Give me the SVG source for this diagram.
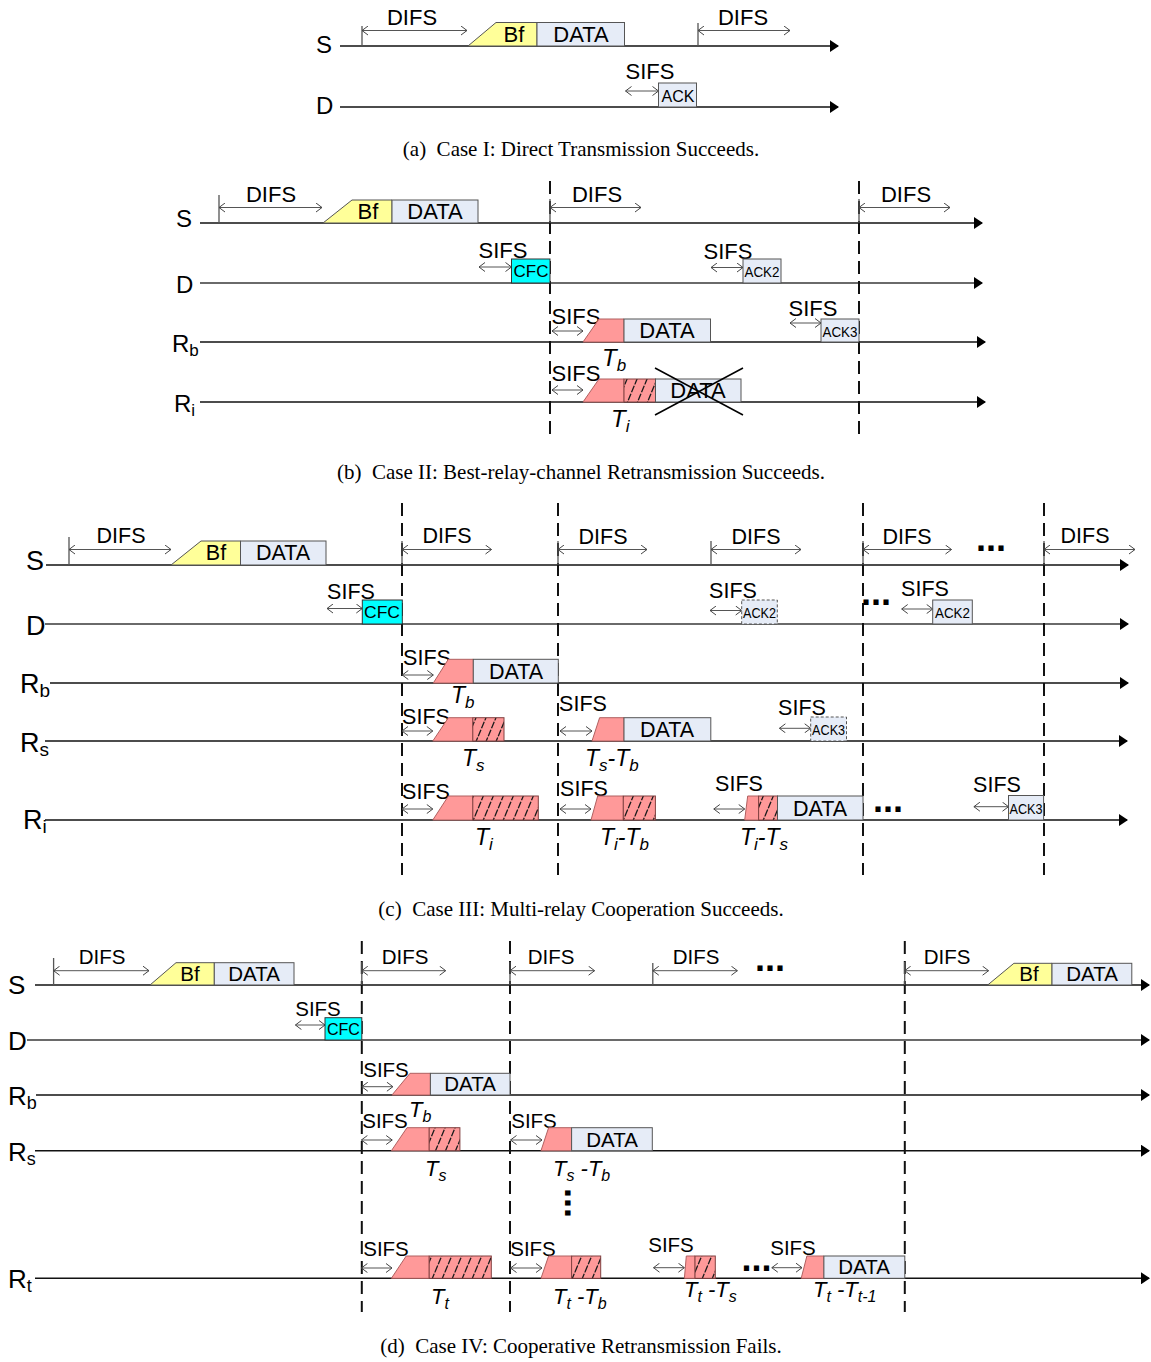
<svg xmlns="http://www.w3.org/2000/svg" width="1151" height="1362" viewBox="0 0 1151 1362">
<style>
.tl{stroke:#111;stroke-width:1.5;fill:none;marker-end:url(#ah)}
.tg{stroke:#6a6a6a;stroke-width:2;fill:none;marker-end:url(#ah)}
.dl{stroke:#111;stroke-width:2;stroke-dasharray:13 7;fill:none}
.dim{stroke:#555;stroke-width:1;fill:none;marker-start:url(#ch);marker-end:url(#ch)}
.tk{stroke:#555;stroke-width:1.3;fill:none}
.tx{font-family:"Liberation Sans",Arial,sans-serif;fill:#000;text-anchor:middle}
.nl{font-family:"Liberation Sans",Arial,sans-serif;fill:#000}
.bf{fill:#ffff99;stroke:#555;stroke-width:1}
.da{fill:#e6ecf7;stroke:#555;stroke-width:1}
.cf{fill:#00ffff;stroke:#333;stroke-width:1}
.rd{fill:#ff9999;stroke:#b06060;stroke-width:1}
.ht{fill:url(#hp);stroke:#804040;stroke-width:1}
.ad{fill:#e6ecf7;stroke:#555;stroke-width:1;stroke-dasharray:3 2}
.T{font-family:"Liberation Sans",Arial,sans-serif;font-style:italic;fill:#000}
.cap{font-family:"Liberation Serif","Times New Roman",serif;font-size:21px;text-anchor:middle;fill:#000;white-space:pre}
.dots{font-family:"Liberation Sans",Arial,sans-serif;font-weight:bold;font-size:36px;text-anchor:middle;fill:#000}
.x{stroke:#000;stroke-width:1.5;fill:none}
</style>
<defs>
<marker id="ah" viewBox="0 0 9 12" refX="8" refY="6" markerWidth="9" markerHeight="12" markerUnits="userSpaceOnUse" orient="auto"><path d="M0,0L9,6L0,12z" fill="#000"/></marker>
<marker id="ch" viewBox="0 0 7 10" refX="6.5" refY="5" markerWidth="7" markerHeight="10" markerUnits="userSpaceOnUse" orient="auto-start-reverse"><path d="M0.5,0.5L6.5,5L0.5,9.5" fill="none" stroke="#444" stroke-width="1"/></marker>
<pattern id="hp" patternUnits="userSpaceOnUse" width="10" height="24"><rect width="10" height="24" fill="#ff9999"/><path d="M-5,24L5,0M5,24L15,0" stroke="#1a1a1a" stroke-width="1.3" stroke-dasharray="7 1.5"/></pattern>
</defs>
<rect width="1151" height="1362" fill="#fff"/>

<!-- ============ Panel (a) ============ -->
<g id="panel-a">
<g id="a-connectors">
<path class="tl" d="M340,46H838"/>
<path class="tl" d="M340,107H838"/>
<path class="tk" d="M362,26V46M698,23V46"/>
<path class="dim" d="M362,30.5H467"/>
<path class="dim" d="M698,30.5H790"/>
<path class="dim" d="M625.5,91H658.5"/>
</g>
<g id="a-labels" class="tx" font-size="22">
<text x="412" y="25">DIFS</text>
<text x="743" y="25">DIFS</text>
<text x="650" y="79">SIFS</text>
</g>
<g id="a-S"><text class="nl" x="316" y="53" font-size="24">S</text></g>
<g id="a-D"><text class="nl" x="316" y="114" font-size="24">D</text></g>
<g id="a-bf"><polygon class="bf" points="468,46 496,22.5 537,22.5 537,46"/><text class="tx" x="514" y="42" font-size="22">Bf</text></g>
<g id="a-data"><rect class="da" x="537" y="22.5" width="87.5" height="23.5"/><text class="tx" x="581" y="42" font-size="22">DATA</text></g>
<g id="a-ack"><rect class="da" x="658.5" y="83" width="38" height="24"/><text class="tx" x="678" y="102" font-size="16" textLength="33" lengthAdjust="spacingAndGlyphs">ACK</text></g>
<text class="cap" x="581" y="156">(a)  Case I: Direct Transmission Succeeds.</text>
</g>

<!-- ============ Panel (b) ============ -->
<g id="panel-b">
<g id="b-connectors">
<path class="tl" d="M200,223H982"/>
<path class="tg" d="M200,283H982"/>
<path class="tl" d="M200,342H985"/>
<path class="tl" d="M200,402H985"/>
<path class="dl" d="M550,181V440"/>
<path class="dl" d="M859,181V440"/>
<path class="tk" d="M219,195V223M550,199V223M859,199V223"/>
<path class="dim" d="M219,207.5H322"/>
<path class="dim" d="M550,207.5H641"/>
<path class="dim" d="M859,207.5H950"/>
<path class="dim" d="M479,267H511.5"/>
<path class="dim" d="M711,267.5H743"/>
<path class="dim" d="M552,331H583"/>
<path class="dim" d="M790,323H821"/>
<path class="dim" d="M552,390H583"/>
</g>
<g id="b-labels" class="tx" font-size="22">
<text x="271" y="202">DIFS</text>
<text x="597" y="202">DIFS</text>
<text x="906" y="202">DIFS</text>
<text x="503" y="258">SIFS</text>
<text x="728" y="259">SIFS</text>
<text x="576" y="324">SIFS</text>
<text x="813" y="316">SIFS</text>
<text x="576" y="381">SIFS</text>
</g>
<g id="b-S"><text class="nl" x="176" y="227" font-size="24">S</text></g>
<g id="b-D"><text class="nl" x="176" y="293" font-size="24">D</text></g>
<g id="b-Rb"><text class="nl" x="172" y="352" font-size="24">R<tspan font-size="17" dy="4">b</tspan></text></g>
<g id="b-Ri"><text class="nl" x="174" y="412" font-size="24">R<tspan font-size="17" dy="4">i</tspan></text></g>
<g id="b-bf"><polygon class="bf" points="323,223 352,200 392,200 392,223"/><text class="tx" x="368" y="219" font-size="22">Bf</text></g>
<g id="b-data"><rect class="da" x="392" y="200" width="86" height="23"/><text class="tx" x="435" y="219" font-size="22">DATA</text></g>
<g id="b-cfc"><rect class="cf" x="511.5" y="259" width="38.5" height="24"/><text class="tx" x="531" y="277" font-size="17" textLength="35" lengthAdjust="spacingAndGlyphs">CFC</text></g>
<g id="b-ack2"><rect class="da" x="743" y="259" width="38" height="24"/><text class="tx" x="762" y="277" font-size="14" textLength="35" lengthAdjust="spacingAndGlyphs">ACK2</text></g>
<g id="b-rb-tb"><polygon class="rd" points="583,342 599,319 624,319 624,342"/></g>
<g id="b-rb-data"><rect class="da" x="624" y="319" width="86.5" height="23"/><text class="tx" x="667" y="338" font-size="22">DATA</text></g>
<g id="b-ack3"><rect class="da" x="821" y="319" width="38" height="23"/><text class="tx" x="840" y="337" font-size="14" textLength="35" lengthAdjust="spacingAndGlyphs">ACK3</text></g>
<g id="b-ri-tb"><polygon class="rd" points="583,402 599,379 624,379 624,402"/></g>
<g id="b-ri-hatch"><rect class="ht" x="624" y="379" width="31.5" height="23"/></g>
<g id="b-ri-data"><rect class="da" x="655.5" y="379" width="85.5" height="23"/><text class="tx" x="698" y="398" font-size="22">DATA</text><path class="x" d="M655,368L743,415M655,415L743,368"/></g>
<g id="b-T"><text class="T" x="602" y="366" font-size="24">T<tspan font-size="17" dy="5">b</tspan></text>
<text class="T" x="611" y="427" font-size="24">T<tspan font-size="17" dy="5">i</tspan></text></g>
<text class="cap" x="581" y="479">(b)  Case II: Best-relay-channel Retransmission Succeeds.</text>
</g>

<!-- ============ Panel (c) ============ -->
<g id="panel-c">
<g id="c-connectors">
<path class="tl" d="M46,565H1128"/>
<path class="tg" d="M45,624H1128"/>
<path class="tl" d="M50,683H1128"/>
<path class="tl" d="M45,741H1127"/>
<path class="tl" d="M45,820H1127"/>
<path class="dl" d="M402,503V875"/>
<path class="dl" d="M558,503V875"/>
<path class="dl" d="M863,503V875"/>
<path class="dl" d="M1044,503V875"/>
<path class="tk" d="M69,537V565M402,541V565M558,541V565M711,541V565M863,541V565M1044,541V565"/>
<path class="dim" d="M69,549.5H171"/>
<path class="dim" d="M402,549.5H491.5"/>
<path class="dim" d="M558,549.5H647"/>
<path class="dim" d="M711,549.5H801"/>
<path class="dim" d="M863,549.5H951.5"/>
<path class="dim" d="M1044,549.5H1135"/>
<path class="dim" d="M327,608.5H362.3"/>
<path class="dim" d="M710,610.5H741.7"/>
<path class="dim" d="M901.7,609H932.7"/>
<path class="dim" d="M402.3,675H433.3"/>
<path class="dim" d="M402,731H432.8"/>
<path class="dim" d="M560,731H592"/>
<path class="dim" d="M779.4,728.3H810.7"/>
<path class="dim" d="M402,809H432.8"/>
<path class="dim" d="M560,809H591"/>
<path class="dim" d="M713.8,809H744.7"/>
<path class="dim" d="M973.9,806.7H1008.5"/>
</g>
<g id="c-labels" class="tx" font-size="21.5">
<text x="121" y="543">DIFS</text>
<text x="447" y="543">DIFS</text>
<text x="603" y="544">DIFS</text>
<text x="756" y="544">DIFS</text>
<text x="907" y="544">DIFS</text>
<text x="1085" y="543">DIFS</text>
<text x="351" y="599">SIFS</text>
<text x="733" y="598">SIFS</text>
<text x="925" y="596">SIFS</text>
<text x="427" y="665">SIFS</text>
<text x="426" y="724">SIFS</text>
<text x="583" y="711">SIFS</text>
<text x="802" y="715">SIFS</text>
<text x="426" y="799">SIFS</text>
<text x="584" y="796">SIFS</text>
<text x="739" y="791">SIFS</text>
<text x="997" y="792">SIFS</text>
</g>
<g id="c-dots">
<text class="dots" x="991" y="551">...</text>
<text class="dots" x="876" y="605">...</text>
<text class="dots" x="888" y="812">...</text>
</g>
<g id="c-S"><text class="nl" x="26" y="570" font-size="27">S</text></g>
<g id="c-D"><text class="nl" x="26" y="635" font-size="27">D</text></g>
<g id="c-Rb"><text class="nl" x="20" y="693" font-size="27">R<tspan font-size="19" dy="4">b</tspan></text></g>
<g id="c-Rs"><text class="nl" x="20" y="752" font-size="27">R<tspan font-size="19" dy="4">s</tspan></text></g>
<g id="c-Ri"><text class="nl" x="23" y="829" font-size="27">R<tspan font-size="19" dy="4">i</tspan></text></g>
<g id="c-bf"><polygon class="bf" points="171,565 201,541 240.5,541 240.5,565"/><text class="tx" x="216" y="560" font-size="21.5">Bf</text></g>
<g id="c-data"><rect class="da" x="240.5" y="541" width="85.5" height="24"/><text class="tx" x="283" y="560" font-size="21.5">DATA</text></g>
<g id="c-cfc"><rect class="cf" x="362.3" y="600" width="40" height="24"/><text class="tx" x="382" y="618" font-size="17" textLength="36" lengthAdjust="spacingAndGlyphs">CFC</text></g>
<g id="c-ack2a"><rect class="ad" x="741.7" y="600" width="35.6" height="24"/><text class="tx" x="759.5" y="618" font-size="14" textLength="33" lengthAdjust="spacingAndGlyphs">ACK2</text></g>
<g id="c-ack2b"><rect class="da" x="932.7" y="600" width="39.6" height="24"/><text class="tx" x="952.5" y="618" font-size="14" textLength="35" lengthAdjust="spacingAndGlyphs">ACK2</text></g>
<g id="c-rb-tb"><polygon class="rd" points="433.3,683 448.3,659.3 473.3,659.3 473.3,683"/></g>
<g id="c-rb-data"><rect class="da" x="473.3" y="659.3" width="85" height="23.7"/><text class="tx" x="516" y="679" font-size="21.5">DATA</text></g>
<g id="c-rs-ts"><polygon class="rd" points="432.8,741 448.4,717.7 472.8,717.7 472.8,741"/><rect class="ht" x="472.8" y="717.7" width="31.2" height="23.3"/></g>
<g id="c-rs-tsb"><polygon class="rd" points="592,741 599.6,717.7 624,717.7 624,741"/></g>
<g id="c-rs-data"><rect class="da" x="624" y="717.7" width="86.8" height="23.3"/><text class="tx" x="667" y="737" font-size="21.5">DATA</text></g>
<g id="c-ack3a"><rect class="ad" x="810.7" y="717" width="35.8" height="24"/><text class="tx" x="828.6" y="735" font-size="14" textLength="33" lengthAdjust="spacingAndGlyphs">ACK3</text></g>
<g id="c-ri-ti"><polygon class="rd" points="432.8,820 448.4,796 472.8,796 472.8,820"/><rect class="ht" x="472.8" y="796" width="65.5" height="24"/></g>
<g id="c-ri-tib"><polygon class="rd" points="591,820 597.7,796 623.3,796 623.3,820"/><rect class="ht" x="623.3" y="796" width="32.1" height="24"/></g>
<g id="c-ri-tis"><polygon class="rd" points="744.7,820 747.7,796 758.6,796 758.6,820"/><rect class="ht" x="758.6" y="796" width="18.9" height="24"/></g>
<g id="c-ri-data"><rect class="da" x="777.5" y="796" width="85.5" height="24"/><text class="tx" x="820" y="816" font-size="21.5">DATA</text></g>
<g id="c-ack3b"><rect class="da" x="1008.5" y="795.5" width="35.1" height="24.5"/><text class="tx" x="1026" y="814" font-size="14" textLength="33" lengthAdjust="spacingAndGlyphs">ACK3</text></g>
<g id="c-T" font-size="23">
<text class="T" x="451" y="703">T<tspan font-size="17" dy="5">b</tspan></text>
<text class="T" x="462" y="766">T<tspan font-size="17" dy="5">s</tspan></text>
<text class="T" x="585" y="766">T<tspan font-size="17" dy="5">s</tspan><tspan dy="-5">-T</tspan><tspan font-size="17" dy="5">b</tspan></text>
<text class="T" x="475" y="845">T<tspan font-size="17" dy="5">i</tspan></text>
<text class="T" x="600" y="845">T<tspan font-size="17" dy="5">i</tspan><tspan dy="-5">-T</tspan><tspan font-size="17" dy="5">b</tspan></text>
<text class="T" x="740" y="845">T<tspan font-size="17" dy="5">i</tspan><tspan dy="-5">-T</tspan><tspan font-size="17" dy="5">s</tspan></text>
</g>
<text class="cap" x="581" y="916">(c)  Case III: Multi-relay Cooperation Succeeds.</text>
</g>

<!-- ============ Panel (d) ============ -->
<g id="panel-d">
<g id="d-connectors">
<path class="tl" d="M35,985H1149"/>
<path class="tg" d="M27,1040H1149"/>
<path class="tl" d="M36,1095H1149"/>
<path class="tl" d="M35,1150.7H1149"/>
<path class="tl" d="M35,1278.3H1149"/>
<path class="dl" d="M361.8,941V1312"/>
<path class="dl" d="M510,941V1312"/>
<path class="dl" d="M904.8,941V1312"/>
<path class="tk" d="M53.6,958V985M361.8,962V985M510,962V985M652.8,963V985M904.7,962V985"/>
<path class="dim" d="M53.6,970.7H149"/>
<path class="dim" d="M361.8,970.7H445.7"/>
<path class="dim" d="M510,970.7H594.6"/>
<path class="dim" d="M652.8,970.7H737.4"/>
<path class="dim" d="M904.7,970.7H988.6"/>
<path class="dim" d="M295.4,1025H325"/>
<path class="dim" d="M361.8,1086.7H392.9"/>
<path class="dim" d="M361.4,1140H392.2"/>
<path class="dim" d="M510.5,1140H542"/>
<path class="dim" d="M361.4,1268H392"/>
<path class="dim" d="M510.5,1268H542"/>
<path class="dim" d="M653.5,1267.7H684.4"/>
<path class="dim" d="M771.8,1267.7H802"/>
</g>
<g id="d-labels" class="tx" font-size="20.5">
<text x="102" y="964">DIFS</text>
<text x="405" y="964">DIFS</text>
<text x="551" y="964">DIFS</text>
<text x="696" y="964">DIFS</text>
<text x="947" y="964">DIFS</text>
<text x="318" y="1016">SIFS</text>
<text x="386" y="1077">SIFS</text>
<text x="385" y="1128">SIFS</text>
<text x="534" y="1128">SIFS</text>
<text x="386" y="1256">SIFS</text>
<text x="533" y="1256">SIFS</text>
<text x="671" y="1252">SIFS</text>
<text x="793" y="1255">SIFS</text>
</g>
<g id="d-dots">
<text class="dots" x="770" y="971">...</text>
<text class="dots" x="756.5" y="1271">...</text>
<text class="dots" transform="translate(565,1203) rotate(90)" x="0" y="0">...</text>
</g>
<g id="d-S"><text class="nl" x="8" y="994" font-size="26">S</text></g>
<g id="d-D"><text class="nl" x="8" y="1050" font-size="26">D</text></g>
<g id="d-Rb"><text class="nl" x="8" y="1105" font-size="26">R<tspan font-size="18" dy="4">b</tspan></text></g>
<g id="d-Rs"><text class="nl" x="8" y="1161" font-size="26">R<tspan font-size="18" dy="4">s</tspan></text></g>
<g id="d-Rt"><text class="nl" x="8" y="1288" font-size="26">R<tspan font-size="18" dy="4">t</tspan></text></g>
<g id="d-bf1"><polygon class="bf" points="150,985 176,962.7 214.3,962.7 214.3,985"/><text class="tx" x="190" y="981" font-size="20.5">Bf</text></g>
<g id="d-data1"><rect class="da" x="214.3" y="962.7" width="79.7" height="22.3"/><text class="tx" x="254" y="981" font-size="20.5">DATA</text></g>
<g id="d-cfc"><rect class="cf" x="325" y="1017.7" width="36.8" height="22.3"/><text class="tx" x="343.4" y="1034.5" font-size="16" textLength="33" lengthAdjust="spacingAndGlyphs">CFC</text></g>
<g id="d-rb-tb"><polygon class="rd" points="392,1095 410,1073.3 430.4,1073.3 430.4,1095"/></g>
<g id="d-rb-data"><rect class="da" x="430.4" y="1073.3" width="79.6" height="21.7"/><text class="tx" x="470" y="1091" font-size="20.5">DATA</text></g>
<g id="d-rs-ts"><polygon class="rd" points="391.4,1150.7 407,1127.7 429.2,1127.7 429.2,1150.7"/><rect class="ht" x="429.2" y="1127.7" width="30.7" height="23"/></g>
<g id="d-rs-tsb"><polygon class="rd" points="541,1150.7 548.6,1127.7 571.6,1127.7 571.6,1150.7"/></g>
<g id="d-rs-data"><rect class="da" x="571.6" y="1127.7" width="80.7" height="23"/><text class="tx" x="612" y="1147" font-size="20.5">DATA</text></g>
<g id="d-rt-tt"><polygon class="rd" points="391.4,1278.3 406.2,1256 429.2,1256 429.2,1278.3"/><rect class="ht" x="429.2" y="1256" width="62.1" height="22.3"/></g>
<g id="d-rt-ttb"><polygon class="rd" points="541,1278.3 548.6,1256 571.6,1256 571.6,1278.3"/><rect class="ht" x="571.6" y="1256" width="29.1" height="22.3"/></g>
<g id="d-rt-tts"><polygon class="rd" points="684.4,1278.3 686.3,1256 695,1256 695,1278.3"/><rect class="ht" x="695" y="1256" width="20.3" height="22.3"/></g>
<g id="d-rt-ttt1"><polygon class="rd" points="801.2,1278.3 806.9,1256 823.9,1256 823.9,1278.3"/></g>
<g id="d-rt-data"><rect class="da" x="823.9" y="1256" width="80.9" height="22.3"/><text class="tx" x="864" y="1274" font-size="20.5">DATA</text></g>
<g id="d-bf2"><polygon class="bf" points="987.7,985 1013.9,963.3 1052,963.3 1052,985"/><text class="tx" x="1029" y="981" font-size="20.5">Bf</text></g>
<g id="d-data2"><rect class="da" x="1052" y="963.3" width="79.8" height="21.7"/><text class="tx" x="1092" y="981" font-size="20.5">DATA</text></g>
<g id="d-T" font-size="22">
<text class="T" x="409" y="1117">T<tspan font-size="16" dy="5">b</tspan></text>
<text class="T" x="425" y="1176">T<tspan font-size="16" dy="5">s</tspan></text>
<text class="T" x="553" y="1176">T<tspan font-size="16" dy="5">s</tspan><tspan dy="-5"> -T</tspan><tspan font-size="16" dy="5">b</tspan></text>
<text class="T" x="431" y="1304">T<tspan font-size="16" dy="5">t</tspan></text>
<text class="T" x="553" y="1304">T<tspan font-size="16" dy="5">t</tspan><tspan dy="-5"> -T</tspan><tspan font-size="16" dy="5">b</tspan></text>
<text class="T" x="684" y="1297">T<tspan font-size="16" dy="5">t</tspan><tspan dy="-5"> -T</tspan><tspan font-size="16" dy="5">s</tspan></text>
<text class="T" x="813" y="1297">T<tspan font-size="16" dy="5">t</tspan><tspan dy="-5"> -T</tspan><tspan font-size="16" dy="5">t-1</tspan></text>
</g>
<text class="cap" x="581" y="1353">(d)  Case IV: Cooperative Retransmission Fails.</text>
</g>
</svg>
